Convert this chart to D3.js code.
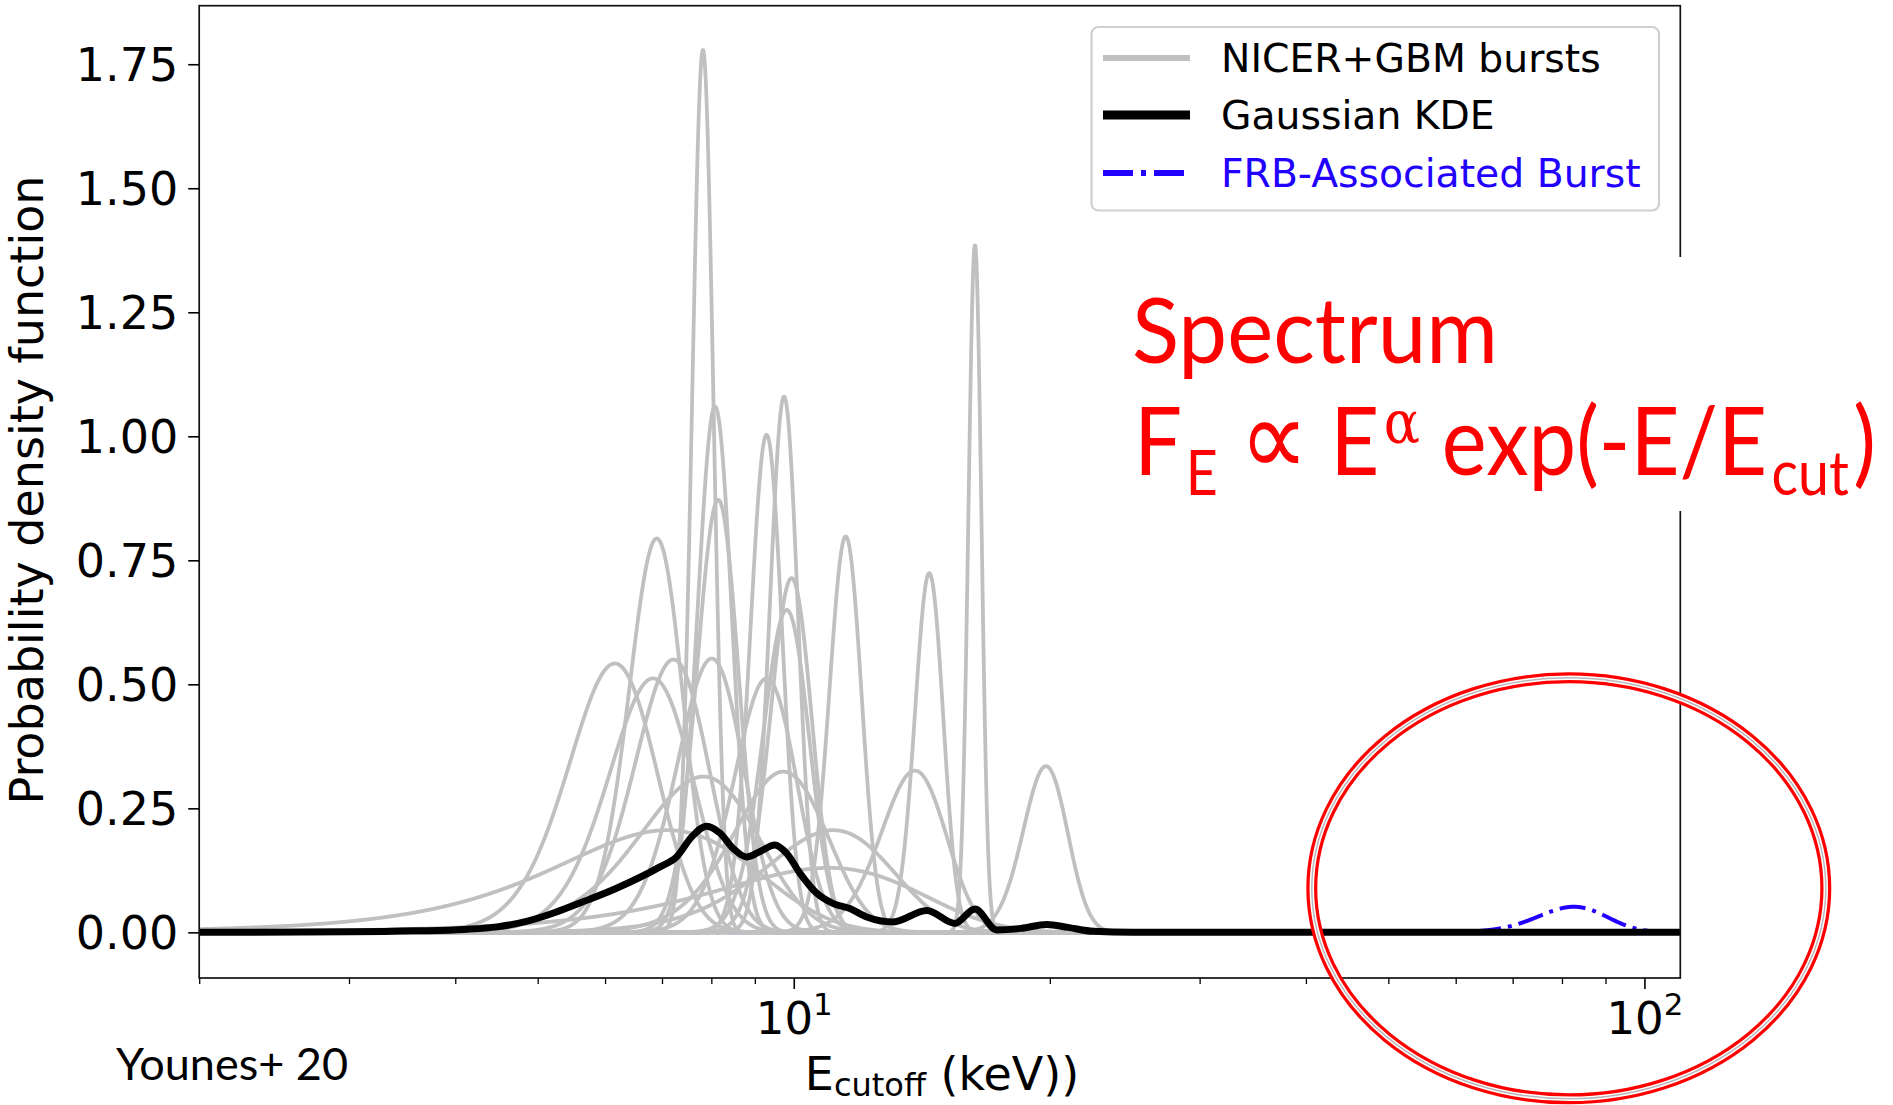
<!DOCTYPE html>
<html>
<head>
<meta charset="utf-8">
<script src="https://cdn.jsdelivr.net/npm/d3@7/dist/d3.min.js"></script>
<style>
html,body{margin:0;padding:0;background:#fff;}
svg{display:block;}
</style>
</head>
<body>
<svg id="fig" width="1893" height="1105"></svg>
<script>
// ---------------- data ----------------
// NICER+GBM bursts: location (keV) and height of the peak of each normal PDF
const burstCentres = [7.82, 16.33, 9.74, 8.08, 9.29, 8.15, 14.43, 6.90, 11.51, 9.94, 9.81, 6.16, 6.83, 7.22, 8.01, 9.29, 13.88, 19.79, 7.83, 9.72, 7.09, 11.13, 11.0];
const burstPeaks   = [1.779, 1.386, 1.080, 1.060, 1.003, 0.872, 0.724, 0.794, 0.798, 0.714, 0.650, 0.542, 0.512, 0.550, 0.552, 0.512, 0.326, 0.335, 0.314, 0.324, 0.206, 0.206, 0.13];

// Gaussian KDE (black curve)
const kdeEnergy  = [2.0, 3.0, 3.6, 4.1, 4.48, 4.85, 5.24, 5.66, 6.19, 6.96, 7.28, 7.59, 7.90, 8.19, 8.49, 8.80, 9.13, 9.50, 9.81, 10.17, 10.64, 11.13, 11.64, 12.18, 13.09, 14.33, 15.47, 16.33, 17.32, 18.5, 19.83, 21.0, 22.5, 25.0, 110.2];
const kdeDensity = [0.0, 0.001, 0.003, 0.006, 0.011, 0.022, 0.040, 0.062, 0.089, 0.132, 0.152, 0.193, 0.214, 0.200, 0.169, 0.152, 0.163, 0.176, 0.159, 0.119, 0.079, 0.058, 0.048, 0.031, 0.021, 0.044, 0.018, 0.047, 0.005, 0.008, 0.016, 0.010, 0.002, 0.0, 0.0];

// FRB-associated burst
const frbCentres = [82.6];
const frbPeaks   = [0.0516];

const yTickValues = [0, 0.25, 0.5, 0.75, 1.0, 1.25, 1.5, 1.75];
const xMajorTicks = [10, 100];
const xMinorTicks = [2, 3, 4, 5, 6, 7, 8, 9, 20, 30, 40, 50, 60, 70, 80, 90];
const legendLabels = ["NICER+GBM bursts", "Gaussian KDE", "FRB-Associated Burst"];

// ---------------- layout ----------------
const svg = d3.select("#fig");
const W = 1893, H = 1105;
const M = {left: 199.2, right: 1680.3, top: 5.7, bottom: 978};
const AX_FONT = "'DejaVu Sans', sans-serif";
const NOTE_FONT = "Lato, 'Open Sans', sans-serif";

const x = d3.scaleLog().domain([2, 110.2]).range([M.left, M.right]);
const y = d3.scaleLinear().domain([-0.092, 1.868]).range([M.bottom, M.top]);

svg.append("rect").attr("width", W).attr("height", H).attr("fill", "#fff");

const defs = svg.append("defs");
defs.append("clipPath").attr("id", "plotclip")
  .append("rect").attr("x", M.left).attr("y", M.top)
  .attr("width", M.right - M.left).attr("height", M.bottom - M.top);

const plot = svg.append("g").attr("clip-path", "url(#plotclip)");

// evaluation grid in energy, one sample per half pixel
const grid = d3.range(M.left, M.right + 0.5, 0.5).map(px => x.invert(px));
const SQ2PI = Math.sqrt(2 * Math.PI);
function normalCurve(mu, peak) {
  const s = 1 / (SQ2PI * peak);
  return grid.map(e => [e, peak * Math.exp(-0.5 * ((e - mu) / s) ** 2)]);
}
const line = d3.line().x(d => x(d[0])).y(d => y(d[1]));
const smoothLine = d3.line().x(d => x(d[0])).y(d => y(d[1])).curve(d3.curveMonotoneX);

// FRB burst (underneath)
frbCentres.forEach((mu, i) => {
  plot.append("path")
    .attr("d", line(normalCurve(mu, frbPeaks[i])))
    .attr("fill", "none").attr("stroke", "#2200ff")
    .attr("stroke-width", 4).attr("stroke-dasharray", "26,7,4,7");
});

// grey bursts
burstCentres.forEach((mu, i) => {
  plot.append("path")
    .attr("d", line(normalCurve(mu, burstPeaks[i])))
    .attr("fill", "none").attr("stroke", "#c0c0c0")
    .attr("stroke-width", 3.8).attr("stroke-linejoin", "round");
});

// KDE
plot.append("path")
  .attr("d", smoothLine(kdeEnergy.map((e, i) => [e, kdeDensity[i]])))
  .attr("fill", "none").attr("stroke", "#000")
  .attr("stroke-width", 7).attr("stroke-linejoin", "round");

// ---------------- axes ----------------
const gy = svg.append("g").attr("transform", `translate(${M.left},0)`)
  .call(d3.axisLeft(y).tickValues(yTickValues).tickFormat(d => d.toFixed(2)).tickSize(11).tickPadding(10));
gy.select(".domain").remove();
gy.selectAll("line").attr("stroke", "#000").attr("stroke-width", 1.6);
gy.selectAll("text").attr("font-family", AX_FONT).attr("font-size", 46).attr("fill", "#000").attr("dy", "0.36em");

const gxMinor = svg.append("g").attr("transform", `translate(0,${M.bottom})`)
  .call(d3.axisBottom(x).tickValues(xMinorTicks).tickFormat(() => "").tickSize(6));
gxMinor.select(".domain").remove();
gxMinor.selectAll("line").attr("stroke", "#000").attr("stroke-width", 1.3);

const gx = svg.append("g").attr("transform", `translate(0,${M.bottom})`)
  .call(d3.axisBottom(x).tickValues(xMajorTicks).tickFormat(() => "").tickSize(11));
gx.select(".domain").remove();
gx.selectAll("line").attr("stroke", "#000").attr("stroke-width", 1.6);
gx.selectAll(".tick").each(function(d) {
  const t = d3.select(this).select("text")
    .attr("font-family", AX_FONT).attr("font-size", 45).attr("fill", "#000")
    .attr("y", 56).attr("dy", null).attr("text-anchor", "middle");
  t.text(null);
  t.append("tspan").text("10");
  t.append("tspan").attr("font-size", 31).attr("dy", -19).text(String(Math.round(Math.log10(d))));
});

// frame
svg.append("rect").attr("x", M.left).attr("y", M.top)
  .attr("width", M.right - M.left).attr("height", M.bottom - M.top)
  .attr("fill", "none").attr("stroke", "#111").attr("stroke-width", 1.7);

// axis labels
svg.append("text")
  .attr("transform", `translate(43,490) rotate(-90)`)
  .attr("text-anchor", "middle").attr("font-family", AX_FONT).attr("font-size", 46).attr("fill", "#000")
  .text("Probability density function");

const xl = svg.append("text").attr("x", 942).attr("y", 1090)
  .attr("text-anchor", "middle").attr("font-family", AX_FONT).attr("font-size", 46).attr("fill", "#000");
xl.append("tspan").text("E");
xl.append("tspan").attr("font-size", 32).attr("dy", 6).text("cutoff");
xl.append("tspan").attr("dy", -6).text(" (keV))");

// ---------------- legend ----------------
const lg = svg.append("g");
lg.append("rect").attr("x", 1091.5).attr("y", 27).attr("width", 567.5).attr("height", 183.5)
  .attr("rx", 7).attr("fill", "#fff").attr("fill-opacity", 0.9)
  .attr("stroke", "#cfcfcf").attr("stroke-width", 2.2);
const legendStyles = [
  {stroke: "#c0c0c0", width: 6, dash: null, color: "#000"},
  {stroke: "#000", width: 9, dash: null, color: "#000"},
  {stroke: "#2200ff", width: 6, dash: "30,8,5,8", color: "#2200ff"}
];
const legendRowY = [58, 115, 173];
legendLabels.forEach((lab, i) => {
  const st = legendStyles[i];
  lg.append("line").attr("x1", 1103).attr("x2", 1190).attr("y1", legendRowY[i]).attr("y2", legendRowY[i])
    .attr("stroke", st.stroke).attr("stroke-width", st.width)
    .attr("stroke-dasharray", st.dash);
  lg.append("text").attr("x", 1221).attr("y", legendRowY[i] + 13.8)
    .attr("font-family", AX_FONT).attr("font-size", 39.3).attr("fill", st.color).text(lab);
});

// ---------------- annotations ----------------
// white panel behind the red formula (hides the right spine)
svg.append("rect").attr("x", 1120).attr("y", 257).attr("width", W - 1120).attr("height", 254).attr("fill", "#fff");

const red = "#ff0000";
svg.append("text").attr("x", 1132).attr("y", 362.5)
  .attr("font-family", NOTE_FONT).attr("font-size", 92).attr("fill", red)
  .attr("textLength", 366).attr("lengthAdjust", "spacingAndGlyphs").text("Spectrum");

const f2 = svg.append("text").attr("x", 1134).attr("y", 475)
  .attr("font-family", NOTE_FONT).attr("font-size", 95).attr("fill", red)
  .attr("textLength", 742).attr("lengthAdjust", "spacingAndGlyphs");
f2.append("tspan").text("F");
f2.append("tspan").attr("font-size", 62).attr("dx", 4).attr("dy", 19.6).text("E");
f2.append("tspan").attr("dy", -19.6).text(" ");
f2.append("tspan").attr("font-family", AX_FONT).attr("font-size", 108).text("\u221D");
f2.append("tspan").text(" E");
f2.append("tspan").attr("font-family", "'DejaVu Serif', serif").attr("font-size", 60).attr("dx", 5).attr("dy", -32).text("\u03B1");
f2.append("tspan").attr("dy", 32).text(" exp(-E/E");
f2.append("tspan").attr("font-size", 62).attr("dx", 5).attr("dy", 19.6).text("cut");
f2.append("tspan").attr("dx", 5).attr("dy", -19.6).text(")");

svg.append("text").attr("x", 116).attr("y", 1079.7)
  .attr("font-family", NOTE_FONT).attr("font-size", 44).attr("fill", "#000")
  .attr("textLength", 232).attr("lengthAdjust", "spacingAndGlyphs").text("Younes+ 20");

// red highlight ring
const ring = svg.append("g");
const ell = {cx: 1568.8, cy: 888.3, rx: 257, ry: 210.5};
[["#ff0000", 11], ["#fff", 4.5], ["#b8b8b8", 1.5]].forEach(([c, w]) => {
  ring.append("ellipse").attr("cx", ell.cx).attr("cy", ell.cy).attr("rx", ell.rx).attr("ry", ell.ry)
    .attr("fill", "none").attr("stroke", c).attr("stroke-width", w);
});
</script>
</body>
</html>
